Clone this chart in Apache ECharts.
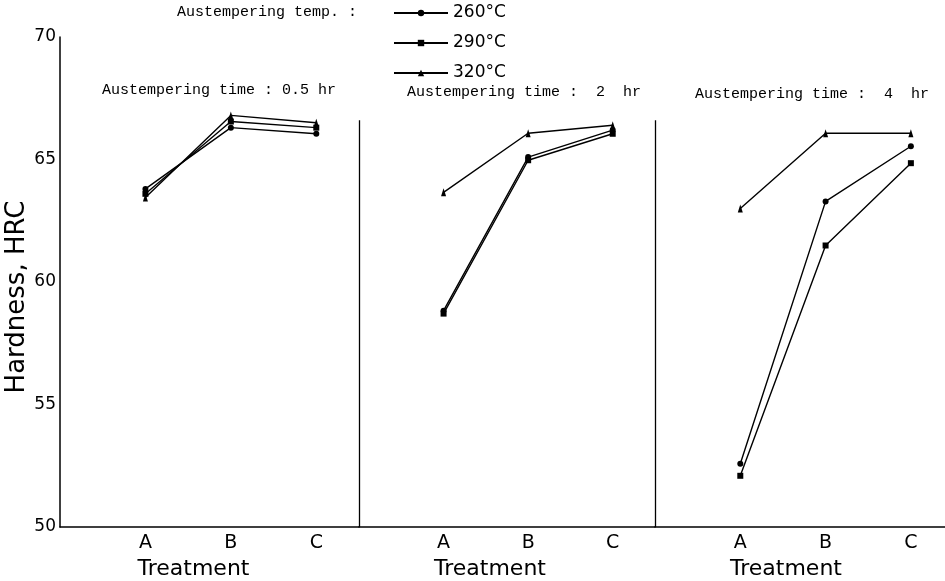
<!DOCTYPE html>
<html>
<head>
<meta charset="utf-8">
<script src="https://cdn.jsdelivr.net/npm/echarts@6/dist/echarts.min.js"></script>
<style>html,body{margin:0;padding:0;background:#fff;}#chart{width:945px;height:581px;}</style>
</head>
<body>
<div id="chart"></div>
<script>
// ---- data ----
const categories = ['A', 'B', 'C'];
const tempLabels = ['260°C', '290°C', '320°C'];
const panelTitles = ['Austempering time : 0.5 hr', 'Austempering time :  2  hr', 'Austempering time :  4  hr'];
const yTicks = [50, 55, 60, 65, 70];
// Hardness (HRC) for treatments A, B, C
const time05_260 = [63.80, 66.30, 66.05];
const time05_290 = [63.60, 66.55, 66.30];
const time05_320 = [63.45, 66.80, 66.50];
const time2_260 = [58.83, 65.10, 66.20];
const time2_290 = [58.71, 64.97, 66.05];
const time2_320 = [63.66, 66.07, 66.40];
const time4_260 = [52.58, 63.29, 65.54];
const time4_290 = [52.09, 61.49, 64.85];
const time4_320 = [63.00, 66.07, 66.07];
const dividerTop = 66.6;

const panels = [
  [time05_260, time05_290, time05_320],
  [time2_260, time2_290, time2_320],
  [time4_260, time4_290, time4_320]
];

const chart = echarts.init(document.getElementById('chart'), null, {renderer: 'canvas'});
const sans = 'DejaVu Sans';
const mono = 'Liberation Mono';
const symbols = ['circle', 'rect', 'triangle'];
const symbolSizes = [6, 6, [5, 8]];

const grids = [
  {left: 60, top: 37, width: 299, height: 490, outerBoundsMode: 'none', containLabel: false},
  {left: 359, top: 37, width: 296, height: 490, outerBoundsMode: 'none', containLabel: false},
  {left: 655, top: 37, width: 290, height: 490, outerBoundsMode: 'none', containLabel: false}
];
const xMax = [3.5, 3.5, 3.4];
const namePad = [32, 34, 28];

const xAxes = grids.map((g, i) => ({
  type: 'value', gridIndex: i, min: 0, max: xMax[i], interval: 1,
  axisLine: {show: true, lineStyle: {color: '#000', width: 1.5}},
  axisTick: {show: false}, splitLine: {show: false},
  axisLabel: {
    margin: 7, color: '#000', fontFamily: sans, fontSize: 19,
    formatter: v => (v >= 1 && v <= categories.length && Number.isInteger(v)) ? categories[v - 1] : ''
  },
  name: 'Treatment', nameLocation: 'middle', nameGap: 24,
  nameTextStyle: {color: '#000', fontFamily: sans, fontSize: 22, padding: [0, namePad[i], 0, 0]}
}));

const yAxes = grids.map((g, i) => ({
  type: 'value', gridIndex: i, min: 50, max: 70, interval: 5,
  axisLine: {show: i === 0, lineStyle: {color: '#000', width: 1.5}},
  axisTick: {show: false}, splitLine: {show: false},
  axisLabel: {show: i === 0, color: '#000', fontFamily: sans, fontSize: 17, margin: 4,
    formatter: v => yTicks.includes(v) ? String(v) : ''},
  name: i === 0 ? 'Hardness, HRC' : '', nameLocation: 'middle', nameGap: 30,
  nameTextStyle: {color: '#000', fontFamily: sans, fontSize: 26, padding: [0, 30, 0, 0]}
}));

const series = [];
panels.forEach((pdata, pi) => {
  pdata.forEach((vals, si) => {
    const s = {
      type: 'line', name: tempLabels[si], xAxisIndex: pi, yAxisIndex: pi,
      data: vals.map((v, k) => [k + 1, v]),
      symbol: symbols[si], symbolSize: symbolSizes[si],
      lineStyle: {color: '#000', width: 1.4},
      itemStyle: {color: '#000'},
      animation: false, silent: true, clip: false
    };
    if (pi > 0 && si === 2) {
      s.markLine = {
        silent: true, symbol: 'none', label: {show: false},
        lineStyle: {color: '#000', width: 1.3, type: 'solid'},
        data: [[{coord: [0, dividerTop]}, {coord: [0, 50]}]]
      };
    }
    series.push(s);
  });
});

const titleStyle = {color: '#000', fontFamily: mono, fontSize: 15, fontWeight: 'normal'};
const option = {
  backgroundColor: '#fff',
  animation: false,
  title: [
    {text: 'Austempering temp. :', left: 177, top: 5, padding: 0, textStyle: titleStyle},
    {text: panelTitles[0], left: 102, top: 83, padding: 0, textStyle: titleStyle},
    {text: panelTitles[1], left: 407, top: 85, padding: 0, textStyle: titleStyle},
    {text: panelTitles[2], left: 695, top: 87, padding: 0, textStyle: titleStyle}
  ],
  legend: {
    data: tempLabels, orient: 'vertical', left: 393, top: 3, padding: 0,
    itemWidth: 54, itemHeight: 8, itemGap: 10,
    textStyle: {color: '#000', fontFamily: sans, fontSize: 17, lineHeight: 20},
    selectedMode: false
  },
  grid: grids,
  xAxis: xAxes,
  yAxis: yAxes,
  series: series
};
chart.setOption(option);
</script>
</body>
</html>
